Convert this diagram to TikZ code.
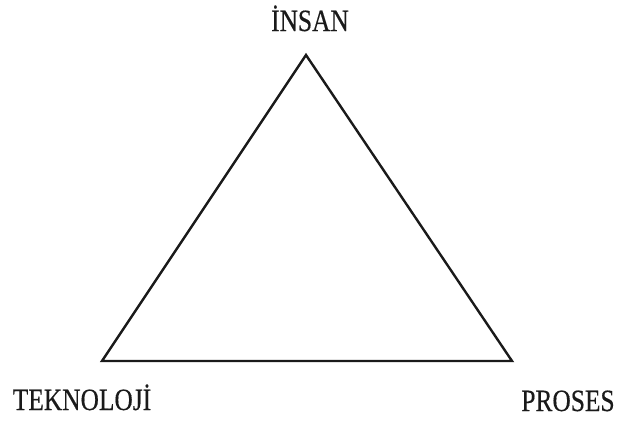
\documentclass[tikz,border=0pt]{standalone}
\usepackage{fontspec}
\setmainfont{Liberation Serif}
\newfontfamily\lblfont[FakeStretch=0.82,FakeBold=0.4]{Liberation Serif}
\usetikzlibrary{positioning}
\definecolor{ink}{HTML}{1A1A1A}
\tikzset{
  lbl/.style ={font=\lblfont\fontsize{15.5}{18}\selectfont,text=ink,inner sep=0pt,anchor=base},
  edg/.style ={draw=ink,line width=1.2pt,line join=miter},
}

\begin{document}
\begin{tikzpicture}[x=0.5pt,y=-0.5pt]
\useasboundingbox (0,0) rectangle (618,420);
% ===== corners =====
\coordinate (top) at (306,55);
\coordinate (lft) at (102,361);
\coordinate (rgt) at (512,361);
\draw[edg] (top) -- (lft) -- (rgt) -- cycle;

% ===== labels =====
\node[lbl] (insan) at (310,31) {İNSAN};
\node[lbl] (tekno) at (82,410) {TEKNOLOJİ};
\node[lbl] (proses) at (568,411) {PROSES};
\end{tikzpicture}
\end{document}
